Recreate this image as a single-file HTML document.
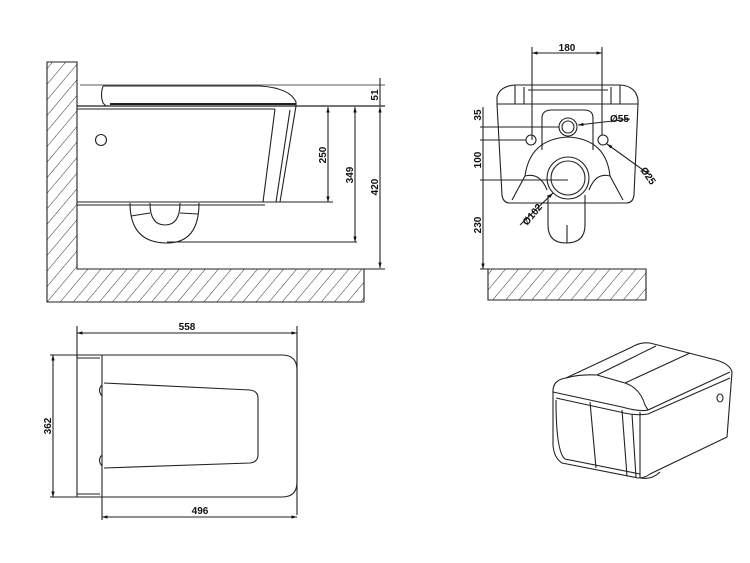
<!DOCTYPE html>
<html><head><meta charset="utf-8"><style>
html,body{margin:0;padding:0;background:#fff;}
svg{display:block;}
text{font-family:"Liberation Sans",sans-serif;font-size:10px;font-weight:bold;fill:#111;}
</style></head><body>
<svg width="750" height="563" viewBox="0 0 750 563" xmlns="http://www.w3.org/2000/svg">
<defs>
<pattern id="h" patternUnits="userSpaceOnUse" width="10" height="10" patternTransform="rotate(40)">
<line x1="0" y1="0" x2="0" y2="10" stroke="#333" stroke-width="1"/>
</pattern>
<marker id="a" viewBox="0 0 10 10" refX="10" refY="5" markerWidth="5" markerHeight="5" orient="auto-start-reverse"><path d="M0,2 L10,5 L0,8z" fill="#111"/></marker>
</defs>
<g fill="none" stroke="#222" stroke-width="1.1">
<path d="M47,62 H77 V269 H364 V302 H47 Z" fill="url(#h)"/>
<path d="M80,85 H385" stroke-width="0.8"/>
<path d="M103,86 L260,86 Q290,88 296,102 L296,106 M103,86 Q100,95 103,103 L106,106"/>
<path d="M110,104 H296" stroke-width="2"/>
<path d="M77,106 H385" stroke-width="1.2"/>
<path d="M77,109 H275"/>
<path d="M296,106 L280,202 H77"/>
<path d="M77,205 H265"/>
<path d="M275,109 L263,202 M290,110 L276,202"/>
<circle cx="101" cy="140" r="5.5"/>
<path d="M130,203 Q130,243 167,243 Q199,243 199,203"/>
<path d="M150,203 Q150,225 165,225 Q180,225 180,203"/>
<path d="M131,216 L150,213 M180,213 L198,214"/>
<path d="M167,242 H357"/>
<path d="M280,202 H333 M364,269 H385"/>
<path d="M328,107 V202" marker-start="url(#a)" marker-end="url(#a)"/>
<path d="M355,107 V242" marker-start="url(#a)" marker-end="url(#a)"/>
<path d="M380,107 V268" marker-start="url(#a)" marker-end="url(#a)"/>
<path d="M380,78 V106" />
<path d="M488,269 H646 V300 H488 Z" fill="url(#h)"/>
<path d="M532,47 V140 M602,47 V135"/>
<path d="M532,53 H602" marker-start="url(#a)" marker-end="url(#a)"/>
<path d="M497,104 L497,97 Q500,86 515,85 H620 Q636,86 638,100 L638,104 Z"/>
<path d="M515,85 V104 M524,87 V104 M611,87 V104 M620,85 V104 M528,90 H608"/>
<path d="M497,104 L502,195 Q503,203 510,203 H626 Q633,203 634,195 L638,104"/>
<path d="M542,150 V118 Q542,110 552,110 H584 Q593,110 593,118 V150"/>
<circle cx="568" cy="127" r="9"/><circle cx="568" cy="127" r="6"/>
<circle cx="531" cy="140" r="5"/><circle cx="603" cy="140" r="5"/>
<path d="M525,176 Q530,139 568,137 Q606,139 610,176"/>
<path d="M512,200 L525,176 Q540,172 547,190 M623,200 L610,176 Q596,172 589,190"/>
<circle cx="568" cy="178" r="21"/><circle cx="568" cy="178" r="17"/>
<path d="M548,195 V225 Q548,243 566,243 Q585,243 585,225 V195"/>
<path d="M567,225 V243"/>
<path d="M483,107 V269" marker-end="url(#a)"/>
<path d="M480,127 H559 M480,140 H526 M480,180 H568 M480,269 H488"/>
<path d="M578,125 L630,119" marker-start="url(#a)"/>
<path d="M607,144 L650,175" marker-start="url(#a)"/>
<path d="M553,193 L520,225" marker-start="url(#a)"/>
<path d="M77,326 V358 M297,326 V515 M102,497 V520"/>
<path d="M77,333 H297" marker-start="url(#a)" marker-end="url(#a)"/>
<path d="M50,355 H102 M50,497 H102"/>
<path d="M53,355 V497" marker-start="url(#a)" marker-end="url(#a)"/>
<path d="M102,517 H297" marker-start="url(#a)" marker-end="url(#a)"/>
<path d="M77,355 H102 V497 H77 Z"/>
<path d="M77,358 H100 M77,494 H100"/>
<path d="M102,355 H282 Q297,355 297,370 V482 Q297,497 282,497 H102"/>
<path d="M104,383 L250,390 Q258,391 258,398 V455 Q258,462 250,463 L104,468"/>
<path d="M102,385 Q97,390 102,396 M102,455 Q97,460 102,466"/>
<path d="M553,393 Q552,380 566,378 L632,347 Q640,342 650,343 L716,360 Q730,364 732,372 L727,437 L650,474 Q645,478 638,478 L562,463 Q554,458 553,445 Z"/>
<path d="M566,378 Q580,374 597,375 L625,383 Q640,388 645,405 L648,410 L730,372"/>
<path d="M597,375 L656,346 M625,383 L690,353"/>
<path d="M553,392 L622,407 Q640,412 648,410"/>
<path d="M556,398 L620,412 Q636,416 648,414 L730,378"/>
<path d="M590,402 L596,468 M622,410 L627,476 M632,414 L636,477 M640,412 V478"/>
<path d="M556,400 Q556,452 565,459 L640,474"/>
<path d="M640,478 Q652,480 660,472"/>
<ellipse cx="720" cy="398" rx="3" ry="4"/>
</g>
<g>
<text x="567" y="51" text-anchor="middle">180</text>
<text x="187" y="330" text-anchor="middle">558</text>
<text x="200" y="514" text-anchor="middle">496</text>
<text x="610" y="122">Ø55</text>
<text transform="translate(326,155) rotate(-90)" text-anchor="middle">250</text>
<text transform="translate(353,175) rotate(-90)" text-anchor="middle">349</text>
<text transform="translate(378,187) rotate(-90)" text-anchor="middle">420</text>
<text transform="translate(378,95) rotate(-90)" text-anchor="middle">51</text>
<text transform="translate(481,115) rotate(-90)" text-anchor="middle">35</text>
<text transform="translate(481,160) rotate(-90)" text-anchor="middle">100</text>
<text transform="translate(481,225) rotate(-90)" text-anchor="middle">230</text>
<text transform="translate(51,426) rotate(-90)" text-anchor="middle">362</text>
<text transform="translate(640,170) rotate(55)">Ø25</text>
<text transform="translate(527,226) rotate(-50)">Ø102</text>
</g>
</svg>
</body></html>
